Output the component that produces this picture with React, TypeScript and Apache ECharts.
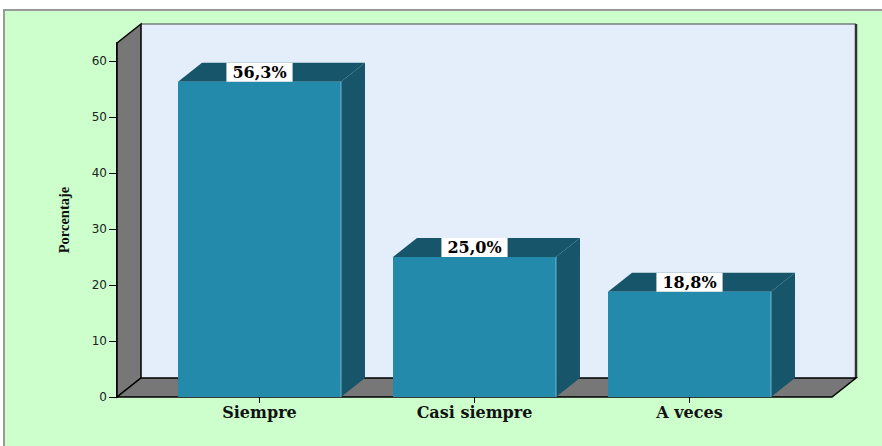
import React, { useEffect, useRef } from 'react';
import * as echarts from 'echarts';

const categories = ['Siempre', 'Casi siempre', 'A veces'];
const percentages = [56.3, 25.0, 18.8];
const valueLabels = ['56,3%', '25,0%', '18,8%'];
const yTicks = [0, 10, 20, 30, 40, 50, 60];
const yAxisTitle = 'Porcentaje';

const DX = 24;
const DY = -19;
const SIDE = 35;

export default function App() {
  const ref = useRef<HTMLDivElement>(null);
  useEffect(() => {
    const chart = echarts.init(ref.current as HTMLDivElement, null, { renderer: 'svg' });
    const option: any = {
      animation: false,
      backgroundColor: '#ffffff',
      graphic: [
        {
          type: 'rect',
          z: -5,
          shape: { x: 4, y: 10, width: 900, height: 460 },
          style: { fill: '#ccffcc', stroke: '#9a9a9a', lineWidth: 2 },
        },
      ],
      grid: { left: 152, right: 85, top: 43, bottom: 49 },
      xAxis: {
        type: 'category',
        data: categories,
        axisLine: { show: false },
        axisTick: { show: true, alignWithLabel: true, length: 6, lineStyle: { color: '#000', width: 1 } },
        axisLabel: {
          fontFamily: '"DejaVu Serif"',
          fontWeight: 'bold',
          fontSize: 16,
          color: '#111',
          margin: 7,
        },
        splitLine: { show: false },
      },
      yAxis: {
        type: 'value',
        min: 0,
        max: 63.2,
        offset: SIDE,
        name: yAxisTitle,
        nameLocation: 'middle',
        nameRotate: 90,
        nameGap: 46,
        nameTextStyle: { fontFamily: '"Liberation Serif"', fontSize: 14.5, fontWeight: 'bold', color: '#111' },
        axisLine: { show: true, lineStyle: { color: '#000', width: 2 } },
        axisTick: { show: true, length: 8, customValues: yTicks, lineStyle: { color: '#000', width: 1 } },
        axisLabel: {
          customValues: yTicks,
          fontFamily: '"DejaVu Sans"',
          fontSize: 12,
          color: '#222',
          margin: 10,
        },
        splitLine: { show: false },
      },
      series: [
        {
          type: 'custom',
          z: 1,
          silent: true,
          data: [[0, 0]],
          renderItem: (params: any, api: any) => {
            const cs = params.coordSys;
            const left = cs.x - SIDE;
            const right = cs.x + cs.width + SIDE;
            const top = cs.y;
            const bottom = api.coord([0, 0])[1];
            return {
              type: 'group',
              children: [
                {
                  type: 'rect',
                  shape: { x: left + DX, y: top + DY, width: right - left, height: bottom - top },
                  style: { fill: '#e3eefa' },
                },
                {
                  type: 'line',
                  shape: { x1: left + DX, y1: top + DY, x2: right + DX, y2: top + DY },
                  style: { stroke: '#444', lineWidth: 1 },
                },
                {
                  type: 'line',
                  shape: { x1: right + DX, y1: top + DY, x2: right + DX, y2: bottom + DY },
                  style: { stroke: '#333', lineWidth: 2.5 },
                },
                {
                  type: 'polygon',
                  shape: {
                    points: [
                      [left, top],
                      [left + DX, top + DY],
                      [left + DX, bottom + DY],
                      [left, bottom],
                    ],
                  },
                  style: { fill: '#777777', stroke: '#000', lineWidth: 1.5 },
                },
                {
                  type: 'polygon',
                  shape: {
                    points: [
                      [left, bottom],
                      [left + DX, bottom + DY],
                      [right + DX, bottom + DY],
                      [right, bottom],
                    ],
                  },
                  style: { fill: '#777777', stroke: '#000', lineWidth: 1.5 },
                },
              ],
            };
          },
        },
        {
          type: 'custom',
          z: 2,
          data: percentages.map((v, i) => [i, v]),
          renderItem: (params: any, api: any) => {
            const idx = api.value(0);
            const top = api.coord([idx, api.value(1)]);
            const base = api.coord([idx, 0]);
            const cx = top[0];
            const yt = top[1];
            const y0 = base[1];
            const bw = api.size([1, 0])[0] * 0.758;
            const x0 = cx - bw / 2;
            const x1 = cx + bw / 2;
            return {
              type: 'group',
              children: [
                {
                  type: 'polygon',
                  shape: { points: [[x1, yt], [x1 + DX, yt + DY], [x1 + DX, y0 + DY], [x1, y0]] },
                  style: { fill: '#17556a' },
                },
                {
                  type: 'polygon',
                  shape: { points: [[x0, yt], [x1, yt], [x1 + DX, yt + DY], [x0 + DX, yt + DY]] },
                  style: { fill: '#17556a' },
                },
                {
                  type: 'rect',
                  shape: { x: x0, y: yt, width: bw, height: y0 - yt },
                  style: { fill: '#238aab' },
                },
                {
                  type: 'line',
                  shape: { x1: x1, y1: yt, x2: x1, y2: y0 },
                  style: { stroke: '#6fb6cf', lineWidth: 1 },
                },
                {
                  type: 'text',
                  x: cx,
                  y: yt + DY / 2,
                  style: {
                    text: valueLabels[params.dataIndex],
                    align: 'center',
                    verticalAlign: 'middle',
                    font: 'bold 16px "DejaVu Serif"',
                    fill: '#000',
                    backgroundColor: '#ffffff',
                    padding: [2, 6, 1, 6],
                    lineHeight: 16,
                  },
                },
              ],
            };
          },
        },
      ],
    };
    chart.setOption(option);
    return () => chart.dispose();
  }, []);
  return (
    <div
      ref={ref}
      style={{ position: 'absolute', left: 0, top: 0, width: 882, height: 446 }}
    />
  );
}
